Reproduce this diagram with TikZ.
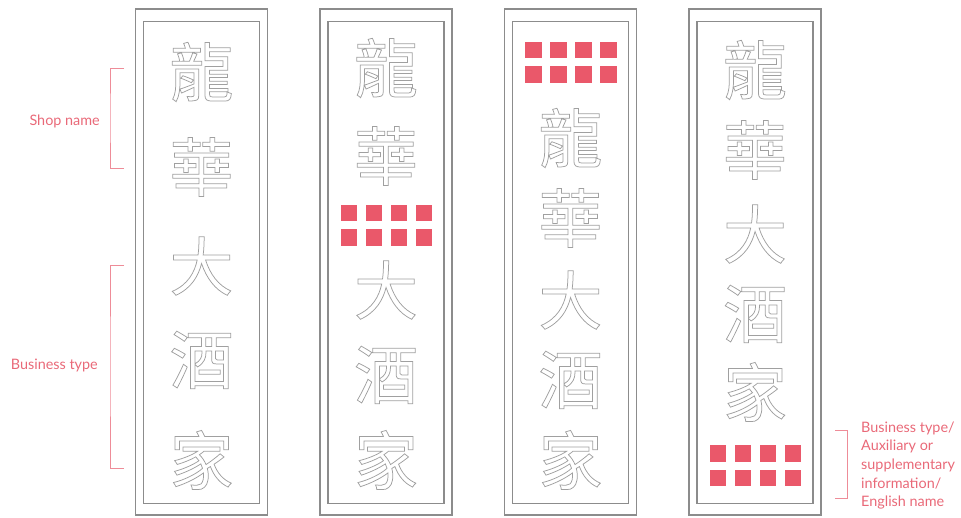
\documentclass[tikz,border=0pt]{standalone}
\usepackage{fontspec}
\setmainfont{Lato}
\newfontfamily\cjk{Noto Sans CJK TC}
\definecolor{rectgray}{RGB}{140,140,140}
\definecolor{hanzigray}{RGB}{160,160,160}
\definecolor{sqred}{RGB}{234,88,106}
\definecolor{labelpink}{RGB}{233,105,120}
\definecolor{brackpink}{RGB}{238,140,152}
\newcommand\outl[1]{\special{pdf:literal direct 1 Tr 0.75 w}#1\special{pdf:literal direct 0 Tr}}
\begin{document}
\begin{tikzpicture}[x=1pt,y=-1pt,
  framebox/.style={draw=rectgray, line width=1.4pt},
  sq/.style={fill=sqred, draw=none},
  hanzi/.style={font=\cjk\fontsize{64}{64}\selectfont, text=hanzigray, inner sep=0pt},
  lbl/.style={font=\fontsize{14.4}{18.7}\selectfont, text=labelpink, inner sep=0pt},
  brk/.style={draw=brackpink, line width=0.8pt}]
\useasboundingbox (0,0) rectangle (961,518);
% panels
\foreach \x in {135.5,320,504.5,689}{
  \draw[framebox] (\x,9) rectangle (\x+132,515);
  \draw[framebox] (\x+8,21.5) rectangle (\x+124,503.5);
}
% panel 1
\node[hanzi] (a1) at (201.5,72)  {\outl{龍}};
\node[hanzi] (a2) at (201.5,167) {\outl{華}};
\node[hanzi] (a3) at (201.5,266) {\outl{大}};
\node[hanzi] (a4) at (201.5,360) {\outl{酒}};
\node[hanzi] (a5) at (201.5,460) {\outl{家}};
% panel 2
\node[hanzi] (b1) at (386,68)  {\outl{龍}};
\node[hanzi] (b2) at (386,156) {\outl{華}};
\node[hanzi] (b3) at (386,290) {\outl{大}};
\node[hanzi] (b4) at (386,375) {\outl{酒}};
\node[hanzi] (b5) at (386,460) {\outl{家}};
\foreach \i in {0,...,3}\foreach \j in {0,1}
  \fill[sq] (340.5+25*\i,205+24.5*\j) rectangle ++(16.5,16.5);
% panel 3
\node[hanzi] (c1) at (570.5,138) {\outl{龍}};
\node[hanzi] (c2) at (570.5,218) {\outl{華}};
\node[hanzi] (c3) at (570.5,300) {\outl{大}};
\node[hanzi] (c4) at (570.5,380) {\outl{酒}};
\node[hanzi] (c5) at (570.5,460) {\outl{家}};
\foreach \i in {0,...,3}\foreach \j in {0,1}
  \fill[sq] (525+25*\i,42+24.5*\j) rectangle ++(16.5,16.5);
% panel 4
\node[hanzi] (d1) at (755,70)  {\outl{龍}};
\node[hanzi] (d2) at (755,150) {\outl{華}};
\node[hanzi] (d3) at (755,234) {\outl{大}};
\node[hanzi] (d4) at (755,314) {\outl{酒}};
\node[hanzi] (d5) at (755,392) {\outl{家}};
\foreach \i in {0,...,3}\foreach \j in {0,1}
  \fill[sq] (709.5+25*\i,445+24.5*\j) rectangle ++(16.5,16.5);
% brackets
\coordinate (s1) at (124,68);  \coordinate (s2) at (124,168);
\coordinate (t1) at (124,265); \coordinate (t2) at (124,468);
\coordinate (r1) at (835,430); \coordinate (r2) at (835,498);
\draw[brk] (s1) -| (110,118) |- (s2);
\draw[brk] (t1) -| (110,366) |- (t2);
\draw[brk] (r1) -| (847,464) |- (r2);
\node[lbl, anchor=east] (shop) at (100,121) {Shop name};
\node[lbl, anchor=east] (btype) at (98,365) {Business type};
\node[lbl, anchor=west, align=left] (aux) at (861,465.5) {Business type/\\Auxiliary or\\supplementary\\information/\\English name};
\end{tikzpicture}
\end{document}
